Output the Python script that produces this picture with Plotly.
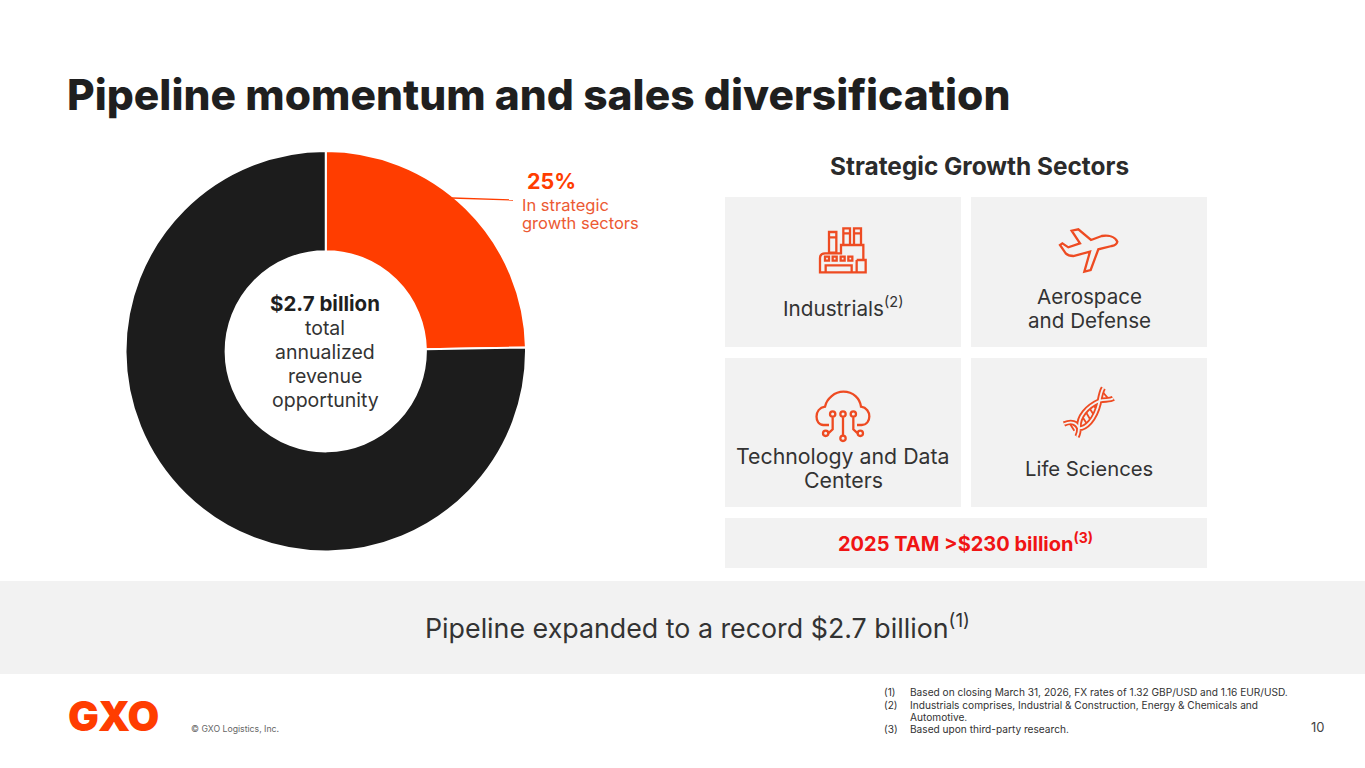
import plotly.graph_objects as go

W, H = 1365, 768

# donut
segmen = ['Strategic growth sectors', 'Other']
nilai = [24.7, 75.3]
warna = ['#FF3D00', '#1C1C1C']

ORANGE = '#FF3D00'
ICON = '#EE4B22'
ABU = '#F2F2F2'
TEKS = '#333333'
FONT = 'Inter'


def px(x):
    return x / W


def py(y):
    return 1 - y / H


def kotak(x0, y0, x1, y1, warna_isi=ABU):
    return dict(type='rect', xref='paper', yref='paper', x0=px(x0), x1=px(x1),
                y0=py(y0), y1=py(y1), fillcolor=warna_isi, line_width=0, layer='below')


def garis_path(cmds, warna_garis=ICON, lebar=2.3):
    # cmds pakai koordinat crop zoom (origin 725,190, skala 3)
    d = ''
    for c in cmds:
        d += c[0] + ' '
        ang = c[1:]
        for i in range(0, len(ang), 2):
            d += f'{px(725 + ang[i] / 3):.5f},{py(190 + ang[i + 1] / 3):.5f} '
    return dict(type='path', xref='paper', yref='paper', path=d,
                line=dict(color=warna_garis, width=lebar))


def rect_z(x0, y0, x1, y1):
    return [('M', x0, y0), ('L', x1, y0), ('L', x1, y1), ('L', x0, y1), ('Z',)]


def lingkaran_z(cx, cy, r):
    k = r * 0.55
    return [('M', cx - r, cy), ('C', cx - r, cy - k, cx - k, cy - r, cx, cy - r),
            ('C', cx + k, cy - r, cx + r, cy - k, cx + r, cy),
            ('C', cx + r, cy + k, cx + k, cy + r, cx, cy + r),
            ('C', cx - k, cy + r, cx - r, cy + k, cx - r, cy), ('Z',)]


def teks(x, y, s, size=20, color=TEKS, anchor='center', bold=False, weight=None):
    return dict(xref='paper', yref='paper', x=px(x), y=py(y), text=s, showarrow=False,
                xanchor=anchor, yanchor='middle', align=anchor if anchor != 'center' else 'center',
                font=dict(family=FONT, size=size, color=color, weight=weight or (700 if bold else 400)))


fig = go.Figure(go.Pie(
    labels=segmen,
    values=nilai,
    hole=0.5,
    sort=False,
    direction='clockwise',
    rotation=0,
    textinfo='none',
    hoverinfo='label+percent',
    marker=dict(colors=warna, line=dict(color='white', width=2)),
    domain=dict(x=[px(125.5), px(526)], y=[py(551.5), py(151)]),
    showlegend=False,
))

shapes = [
    kotak(725, 197, 961, 347), kotak(971, 197, 1207, 347),
    kotak(725, 358, 961, 507), kotak(971, 358, 1207, 507),
    kotak(725, 518, 1207, 568), kotak(0, 581, 1365, 674),
    dict(type='line', xref='paper', yref='paper', x0=px(452), x1=px(513), y0=py(198), y1=py(200),
         line=dict(color=ORANGE, width=1.3)),
]

# ikon pabrik
pabrik = (
    [('M', 285, 247), ('L', 285, 205), ('Q', 285, 190, 300, 190), ('L', 348, 190), ('L', 348, 165), ('L', 415, 165),
     ('L', 415, 210), ('L', 422, 210), ('L', 422, 247), ('Z',)]
    + rect_z(312, 126, 334, 188) + rect_z(355, 115, 375, 165) + rect_z(387, 115, 408, 165)
    + [('M', 312, 142), ('L', 334, 142), ('M', 355, 130), ('L', 375, 130), ('M', 387, 130), ('L', 408, 130)]
    + rect_z(300, 200, 312, 212) + rect_z(323, 200, 335, 212) + rect_z(347, 200, 359, 212) + rect_z(370, 200, 382, 212)
    + [('M', 302, 247), ('L', 302, 226), ('L', 380, 226), ('L', 380, 247), ('M', 395, 210), ('L', 395, 247), ('M', 395, 210), ('L', 415, 210)]
)
shapes.append(garis_path(pabrik))

# ikon pesawat
pesawat = [('M', 1177, 155), ('C', 1170, 140, 1150, 135, 1130, 138), ('L', 1098, 150), ('L', 1060, 118), ('L', 1040, 122),
           ('L', 1065, 160), ('L', 1030, 172), ('L', 1012, 160), ('L', 1005, 165), ('L', 1022, 190),
           ('Q', 1030, 198, 1045, 198), ('L', 1095, 185), ('L', 1078, 245), ('L', 1097, 240), ('L', 1120, 178),
           ('L', 1160, 168), ('Q', 1175, 165, 1177, 155), ('Z',)]
shapes.append(garis_path(pesawat))

# ikon cloud
awan = (
    [('M', 312, 705), ('L', 295, 705), ('C', 268, 705, 266, 655, 300, 650), ('C', 305, 625, 330, 605, 355, 605),
     ('C', 385, 605, 405, 625, 408, 650), ('C', 442, 655, 440, 705, 410, 705), ('L', 396, 705)]
    + lingkaran_z(323, 672, 8) + lingkaran_z(354, 672, 8) + lingkaran_z(385, 672, 8)
    + lingkaran_z(302, 730, 8) + lingkaran_z(354, 745, 8) + lingkaran_z(406, 730, 8)
    + [('M', 323, 680), ('L', 323, 718), ('L', 310, 730), ('M', 354, 680), ('L', 354, 737),
       ('M', 385, 680), ('L', 385, 718), ('L', 398, 730)]
)
shapes.append(garis_path(awan))

# ikon dna: pita = garis tebal lalu garis abu di atasnya
untai = [('M', 1017, 702), ('C', 1040, 692, 1055, 698, 1062, 715), ('C', 1082, 715, 1110, 690, 1122, 640),
         ('C', 1125, 625, 1128, 605, 1135, 594),
         ('M', 1056, 740), ('C', 1062, 730, 1062, 722, 1062, 712), ('C', 1060, 680, 1085, 650, 1125, 632),
         ('C', 1140, 628, 1155, 632, 1165, 625)]
anak_tangga = []
for a, b in [((1032, 697), (1048, 722)), ((1072, 680), (1086, 702)), ((1083, 667), (1098, 692)),
             ((1095, 657), (1110, 680)), ((1107, 647), (1117, 662)), ((1133, 606), (1150, 626))]:
    anak_tangga += [('M', a[0], a[1]), ('L', b[0], b[1])]
shapes.append(garis_path(anak_tangga, lebar=1.8))
shapes.append(garis_path(untai, lebar=5.5))
shapes.append(garis_path(untai, warna_garis=ABU, lebar=1.8))

annotations = [
    teks(65, 95, 'Pipeline momentum and sales diversification', size=42.5, color='#1F1F1F', anchor='left', weight=800),
    teks(325, 303, '$2.7 billion', size=20.5, color='#1F1F1F', bold=True),
    teks(325, 328, 'total', size=19.5), teks(325, 352, 'annualized', size=19.5),
    teks(325, 376, 'revenue', size=19.5), teks(325, 400, 'opportunity', size=19.5),
    teks(551, 181, '25%', size=21.5, color=ORANGE, bold=True),
    teks(520, 205, 'In strategic', size=16.5, color='#EC5A33', anchor='left'),
    teks(520, 223, 'growth sectors', size=16.5, color='#EC5A33', anchor='left'),
    teks(979, 166, 'Strategic Growth Sectors', size=24.4, color='#2B2B2B', weight=700),
    teks(843, 307, 'Industrials<sup>(2)</sup>', size=20.7),
    teks(1089, 296, 'Aerospace', size=20.6), teks(1089, 320, 'and Defense', size=20.6),
    teks(843, 456, 'Technology and Data', size=21.3), teks(843, 480, 'Centers', size=21.3),
    teks(1089, 468, 'Life Sciences', size=20.3),
    teks(965, 542, '2025 TAM &gt;$230 billion<sup>(3)</sup>', size=20, color='#F01414', bold=True),
    teks(697, 626, 'Pipeline expanded to a record $2.7 billion<sup>(1)</sup>', size=26.8),
    teks(66, 716, 'GXO', size=41, color=ORANGE, anchor='left', weight=900),
    teks(189, 729, '© GXO Logistics, Inc.', size=8.7, color='#666666', anchor='left'),
    teks(882, 692, '(1)', size=10.1, anchor='left'),
    teks(908, 692, 'Based on closing March 31, 2026, FX rates of 1.32 GBP/USD and 1.16 EUR/USD.', size=10.15, anchor='left'),
    teks(882, 705, '(2)', size=10.1, anchor='left'),
    teks(908, 705, 'Industrials comprises, Industrial & Construction, Energy & Chemicals and', size=10.15, anchor='left'),
    teks(908, 717, 'Automotive.', size=10.15, anchor='left'),
    teks(882, 729, '(3)', size=10.1, anchor='left'),
    teks(908, 729, 'Based upon third-party research.', size=10.15, anchor='left'),
    teks(1318, 727, '10', size=13, color='#444444'),
]

fig.update_layout(
    width=W, height=H,
    margin=dict(l=0, r=0, t=0, b=0),
    paper_bgcolor='white',
    shapes=shapes,
    annotations=annotations,
)

fig.write_html("out.html", config=dict(displayModeBar=False),
               post_script="document.body.style.margin='0';document.body.style.overflow='hidden';")
